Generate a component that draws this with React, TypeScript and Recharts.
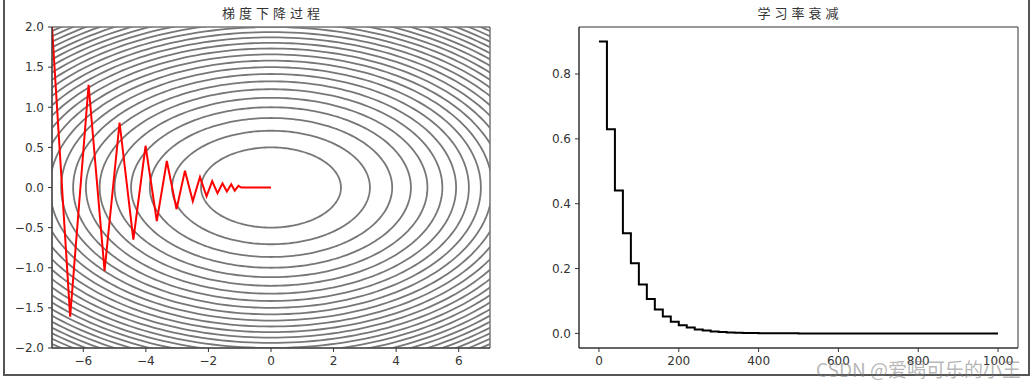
import React from 'react';
import { LineChart, Line, XAxis, YAxis, ReferenceArea } from 'recharts';

// Contour levels of f(x, y) = x^2 / 20 + y^2
const contourLevels = [
  0.25, 0.5, 0.75, 1.0, 1.25, 1.5, 1.75, 2.0, 2.25, 2.5, 2.75, 3.0, 3.25,
  3.5, 3.75, 4.0, 4.25, 4.5, 4.75, 5.0, 5.25, 5.5, 5.75, 6.0, 6.25,
];

// Gradient descent path
const pathX = [
  -7.0, -6.42, -5.83, -5.32, -4.84, -4.4, -4.01, -3.65, -3.33, -3.02, -2.75,
  -2.5, -2.27, -2.06, -1.88, -1.71, -1.55, -1.41, -1.27, -1.16, -1.04, -0.95,
  -0.5, 0.0,
];
const pathY = [
  2.0, -1.61, 1.28, -1.04, 0.81, -0.65, 0.52, -0.42, 0.33, -0.27, 0.21,
  -0.17, 0.13, -0.11, 0.08, -0.07, 0.05, -0.05, 0.04, -0.04, 0.02, 0.0,
  0.0, 0.0,
];

// Learning rate decay (step every 20 epochs)
const epochs = [
  0, 20, 40, 60, 80, 100, 120, 140, 160, 180, 200, 220, 240, 260, 280, 300,
  320, 340, 360, 380, 400, 420, 440, 460, 480, 500, 520, 540, 560, 580, 600,
  620, 640, 660, 680, 700, 720, 740, 760, 780, 800, 820, 840, 860, 880, 900,
  920, 940, 960, 980, 1000,
];
const lrValues = [
  0.9, 0.63, 0.441, 0.309, 0.216, 0.151, 0.106, 0.074, 0.052, 0.036, 0.025,
  0.018, 0.012, 0.0087, 0.0061, 0.0042, 0.003, 0.0021, 0.0015, 0.001, 0.0007,
  0.0005, 0.0004, 0.0003, 0.0002, 0.0001, 0, 0, 0, 0, 0, 0, 0, 0, 0, 0, 0, 0,
  0, 0, 0, 0, 0, 0, 0, 0, 0, 0, 0, 0, 0,
];

const leftXTicks = [-6, -4, -2, 0, 2, 4, 6];
const leftYTicks = [-2, -1.5, -1, -0.5, 0, 0.5, 1, 1.5, 2];
const rightXTicks = [0, 200, 400, 600, 800, 1000];
const rightYTicks = [0, 0.2, 0.4, 0.6, 0.8];

const leftTitle = '梯度下降过程';
const rightTitle = '学习率衰减';
const watermark = 'CSDN @爱喝可乐的小王';

// Build ellipse geometry for each contour level
const ellipses = contourLevels.map((L) => {
  const a = Math.sqrt(20 * L);
  const b = Math.sqrt(L);
  const pts: { x: number; y: number }[] = [];
  const n = 240;
  for (let i = 0; i <= n; i++) {
    const t = (i / n) * Math.PI * 2;
    pts.push({ x: a * Math.cos(t), y: b * Math.sin(t) });
  }
  return pts;
});

const pathData = pathX.map((x, i) => ({ x, y: pathY[i] }));
const lrData = epochs.map((x, i) => ({ x, y: lrValues[i] }));

const minus = (s: string) => s.replace('-', '\u2212');
const tickStyle = { fontSize: 12, fill: '#333', fontFamily: 'DejaVu Sans' };
const titleStyle: React.CSSProperties = {
  position: 'absolute',
  top: 5,
  fontFamily: '"Noto Sans CJK SC"',
  fontSize: 13,
  letterSpacing: 4,
  color: '#333',
  whiteSpace: 'nowrap',
  transform: 'translateX(-50%)',
  lineHeight: '16px',
};

export default function App() {
  return (
    <div style={{ position: 'absolute', left: 0, top: 0, width: 1032, height: 382, background: '#fff', overflow: 'hidden' }}>
      <div style={{ position: 'absolute', left: 3, top: -2, width: 1023, height: 376, borderLeft: '2px solid #555', borderRight: '2px solid #555', borderBottom: '2px solid #555' }} />
      <div style={{ ...titleStyle, left: 273 }}>{leftTitle}</div>
      <div style={{ ...titleStyle, left: 800 }}>{rightTitle}</div>

      <div style={{ position: 'absolute', left: 0, top: 0 }}>
        <LineChart width={500} height={382} margin={{ top: 27, right: 10, bottom: 4, left: 0 }}>
          <XAxis
            type="number"
            dataKey="x"
            domain={[-7, 7]}
            allowDataOverflow
            ticks={leftXTicks}
            tickFormatter={(v: number) => minus(String(v))}
            stroke="#333"
            tick={tickStyle}
            tickSize={4}
            tickMargin={4}
            height={30}
          />
          <YAxis
            type="number"
            dataKey="y"
            domain={[-2, 2]}
            allowDataOverflow
            ticks={leftYTicks}
            tickFormatter={(v: number) => minus(v.toFixed(1))}
            stroke="#333"
            tick={tickStyle}
            tickSize={4}
            tickMargin={4}
            width={52}
          />
          {ellipses.map((pts, i) => (
            <Line
              key={'c' + i}
              data={pts}
              dataKey="y"
              stroke="#777777"
              strokeWidth={1.8}
              dot={false}
              activeDot={false}
              isAnimationActive={false}
              type="linear"
            />
          ))}
          <Line
            data={pathData}
            dataKey="y"
            stroke="#ff0000"
            strokeWidth={2}
            dot={false}
            activeDot={false}
            isAnimationActive={false}
            type="linear"
          />
          <ReferenceArea x1={-7} x2={7} y1={-2} y2={2} fill="none" stroke="#333" strokeWidth={1} ifOverflow="visible" />
        </LineChart>
      </div>

      <div style={{ position: 'absolute', left: 520, top: 0 }}>
        <LineChart width={512} height={382} margin={{ top: 27, right: 14, bottom: 4, left: 0 }}>
          <XAxis
            type="number"
            dataKey="x"
            domain={[-50, 1050]}
            allowDataOverflow
            ticks={rightXTicks}
            stroke="#333"
            tick={tickStyle}
            tickSize={4}
            tickMargin={4}
            height={30}
          />
          <YAxis
            type="number"
            dataKey="y"
            domain={[-0.045, 0.945]}
            allowDataOverflow
            ticks={rightYTicks}
            tickFormatter={(v: number) => v.toFixed(1)}
            stroke="#333"
            tick={tickStyle}
            tickSize={4}
            tickMargin={4}
            width={59}
          />
          <Line
            data={lrData}
            dataKey="y"
            stroke="#000"
            strokeWidth={2}
            dot={false}
            activeDot={false}
            isAnimationActive={false}
            type="stepAfter"
          />
          <ReferenceArea x1={-50} x2={1050} y1={-0.045} y2={0.945} fill="none" stroke="#333" strokeWidth={1} ifOverflow="visible" />
        </LineChart>
      </div>

      <div style={{ position: 'absolute', left: 816, top: 357, fontFamily: '"Noto Sans CJK SC"', fontSize: 19, lineHeight: '24px', color: 'rgba(120,120,120,0.55)', whiteSpace: 'nowrap' }}>
        {watermark}
      </div>
    </div>
  );
}
